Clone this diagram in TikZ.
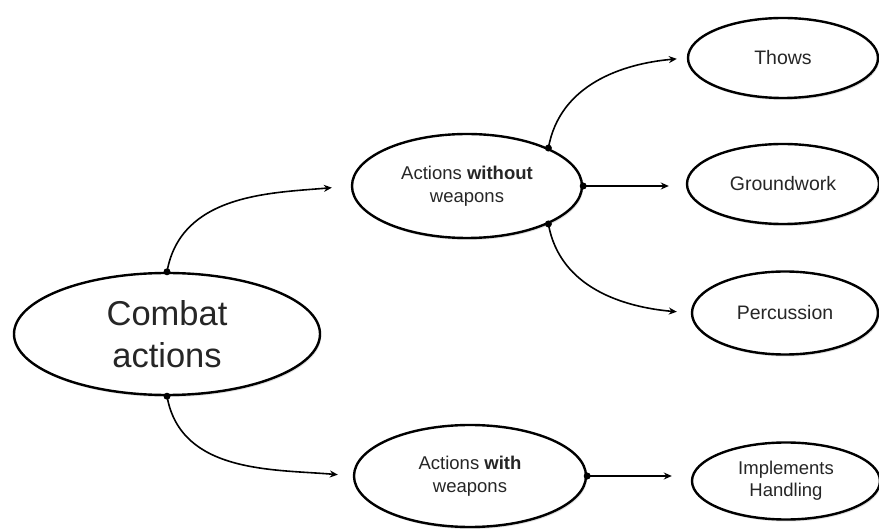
\documentclass[tikz,border=0pt]{standalone}
\usepackage{fontspec}
\setmainfont{Liberation Sans}
\usetikzlibrary{shapes.geometric,arrows.meta,shadows}
\begin{document}
\begin{tikzpicture}[x=1pt,y=1pt,
  bub/.style={ellipse, draw, line width=2.4pt, fill=white, inner sep=0pt, align=center,
    text=black!85, drop shadow={shadow xshift=1.2pt, shadow yshift=-2pt, opacity=0.25}},
  link/.style={line width=1.6pt, -{Stealth[length=8pt,width=7pt]}},
  dot/.style={circle, fill=black, inner sep=0pt, minimum size=7pt},
  midfont/.style={font=\fontsize{18.5}{23}\selectfont},
  leaffont/.style={font=\fontsize{19.5}{23}\selectfont}]
\useasboundingbox (0,0) rectangle (879,-529);
\fill[white] (0,0) rectangle (879,-529);

\node[bub, minimum width=306pt, minimum height=122pt, font=\fontsize{34.5}{42}\selectfont] (combat) at (167,-334) {Combat\\actions};
\node[bub, midfont, minimum width=230pt, minimum height=104pt] (wo) at (467,-186) {Actions \textbf{without}\\weapons};
\node[bub, midfont, minimum width=232pt, minimum height=102pt] (wi) at (470,-476) {Actions \textbf{with}\\weapons};
\node[bub, leaffont, minimum width=190pt, minimum height=80pt] (thows) at (783,-58) {Thows};
\node[bub, leaffont, minimum width=192pt, minimum height=80pt] (gw) at (783,-184) {Groundwork};
\node[bub, leaffont, minimum width=186pt, minimum height=83pt] (perc) at (785,-313) {Percussion};
\node[bub, font=\fontsize{18.5}{22}\selectfont, minimum width=188pt, minimum height=77pt] (impl) at (786,-481) {Implements\\Handling};

\draw[link, shorten >=19pt] (combat.north) to[out=80,in=185] (wo.west);
\draw[link, shorten >=15pt] (combat.south) to[out=-80,in=175] (wi.west);
\draw[link, shorten >=10pt] (wo.25) to[out=80,in=185] (thows.west);
\draw[link, shorten >=17pt] (wo.east) -- (wo.east -| gw.west);
\draw[link, shorten >=14pt] (wo.-25) to[out=-80,in=175] (perc.west);
\draw[link, shorten >=19pt] (wi.east) -- (wi.east -| impl.west);

\node[dot] (d1) at (combat.north) {};
\node[dot] (d2) at (combat.south) {};
\node[dot] (d3) at (wo.25) {};
\node[dot] (d4) at (wo.east) {};
\node[dot] (d5) at (wo.-25) {};
\node[dot] (d6) at (wi.east) {};
\end{tikzpicture}
\end{document}
